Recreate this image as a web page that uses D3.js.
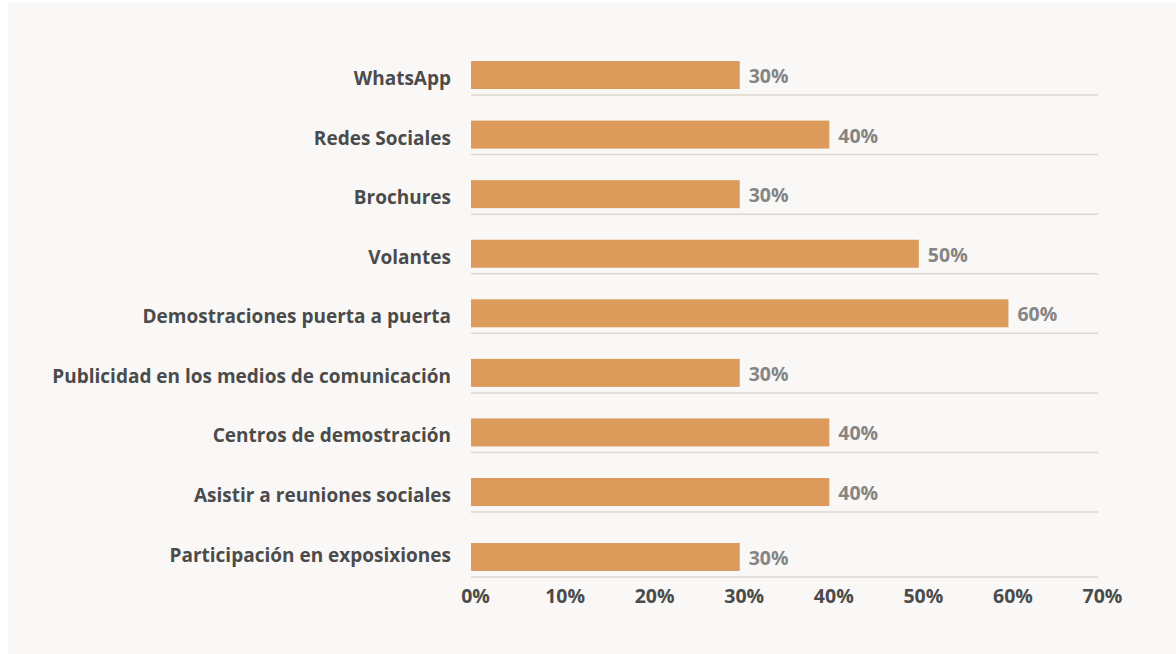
<!DOCTYPE html>
<html>
<head>
<meta charset="utf-8">
<script src="https://cdn.jsdelivr.net/npm/d3@7"></script>
<style>
  html, body { margin: 0; padding: 0; background: #ffffff; }
  svg { display: block; }
  text { font-family: "Open Sans", "DejaVu Sans", sans-serif; font-weight: 700; }
</style>
</head>
<body>
<svg id="chart" width="1176" height="654"></svg>
<script>
// Canales de promoción: porcentaje de uso por canal
const categories = [
  "WhatsApp",
  "Redes Sociales",
  "Brochures",
  "Volantes",
  "Demostraciones puerta a puerta",
  "Publicidad en los medios de comunicación",
  "Centros de demostración",
  "Asistir a reuniones sociales",
  "Participación en exposixiones"
];
const values = [30, 40, 30, 50, 60, 30, 40, 40, 30];
const tickValues = [0, 10, 20, 30, 40, 50, 60, 70];
const tickLabels = ["0%", "10%", "20%", "30%", "40%", "50%", "60%", "70%"];

const W = 1176, H = 654;
const svg = d3.select("#chart");

// panel background
svg.append("rect")
  .attr("x", 8).attr("y", 3)
  .attr("width", W - 8).attr("height", H - 3)
  .attr("fill", "#f9f8f6");

const x = d3.scaleLinear().domain([0, 70]).range([471, 1098]);

const y = d3.scaleBand()
  .domain(categories)
  .range([61, 565.6])
  .paddingInner(0.53)
  .paddingOuter(0);

// the last row's bar sits a little lower, just above the axis
const lastGap = 5.4;
const rowY = d => y(d) + (d === categories[categories.length - 1] ? lastGap : 0);
const lineOffset = 6;

const rows = categories.map((c, i) => ({ cat: c, val: values[i] }));

// row separators
svg.append("g").selectAll("line")
  .data(rows)
  .join("line")
  .attr("x1", x(0))
  .attr("x2", x(70))
  .attr("y1", d => rowY(d.cat) + y.bandwidth() + lineOffset)
  .attr("y2", d => rowY(d.cat) + y.bandwidth() + lineOffset)
  .attr("stroke", "#ddd8cf")
  .attr("stroke-width", 1.5);

// bars
svg.append("g").selectAll("rect")
  .data(rows)
  .join("rect")
  .attr("x", x(0))
  .attr("y", d => rowY(d.cat))
  .attr("width", d => x(d.val) - x(0))
  .attr("height", y.bandwidth())
  .attr("fill", "#dc9a5b");

// value labels
svg.append("g").selectAll("text")
  .data(rows)
  .join("text")
  .attr("x", d => x(d.val) + 9)
  .attr("y", d => rowY(d.cat) + y.bandwidth() / 2 + 8)
  .attr("fill", "#868585")
  .attr("font-size", 19.5)
  .text(d => d.val + "%");

// category labels (kept on the regular row grid)
svg.append("g").selectAll("text")
  .data(rows)
  .join("text")
  .attr("x", 451)
  .attr("y", d => y(d.cat) + y.bandwidth() / 2 + 10)
  .attr("text-anchor", "end")
  .attr("fill", "#4b4b4b")
  .attr("font-size", 19)
  .text(d => d.cat);

// x axis tick labels
const xAxis = d3.axisBottom(x)
  .tickValues(tickValues)
  .tickFormat((d, i) => tickLabels[i])
  .tickSize(0)
  .tickPadding(0);

const gx = svg.append("g")
  .attr("transform", "translate(4,588)")
  .call(xAxis);
gx.select(".domain").remove();
gx.selectAll("text")
  .attr("fill", "#4b4b4b")
  .attr("font-size", 19.5)
  .attr("font-family", "'Open Sans', 'DejaVu Sans', sans-serif")
  .attr("font-weight", 700)
  .attr("dy", "0.75em");
</script>
</body>
</html>
